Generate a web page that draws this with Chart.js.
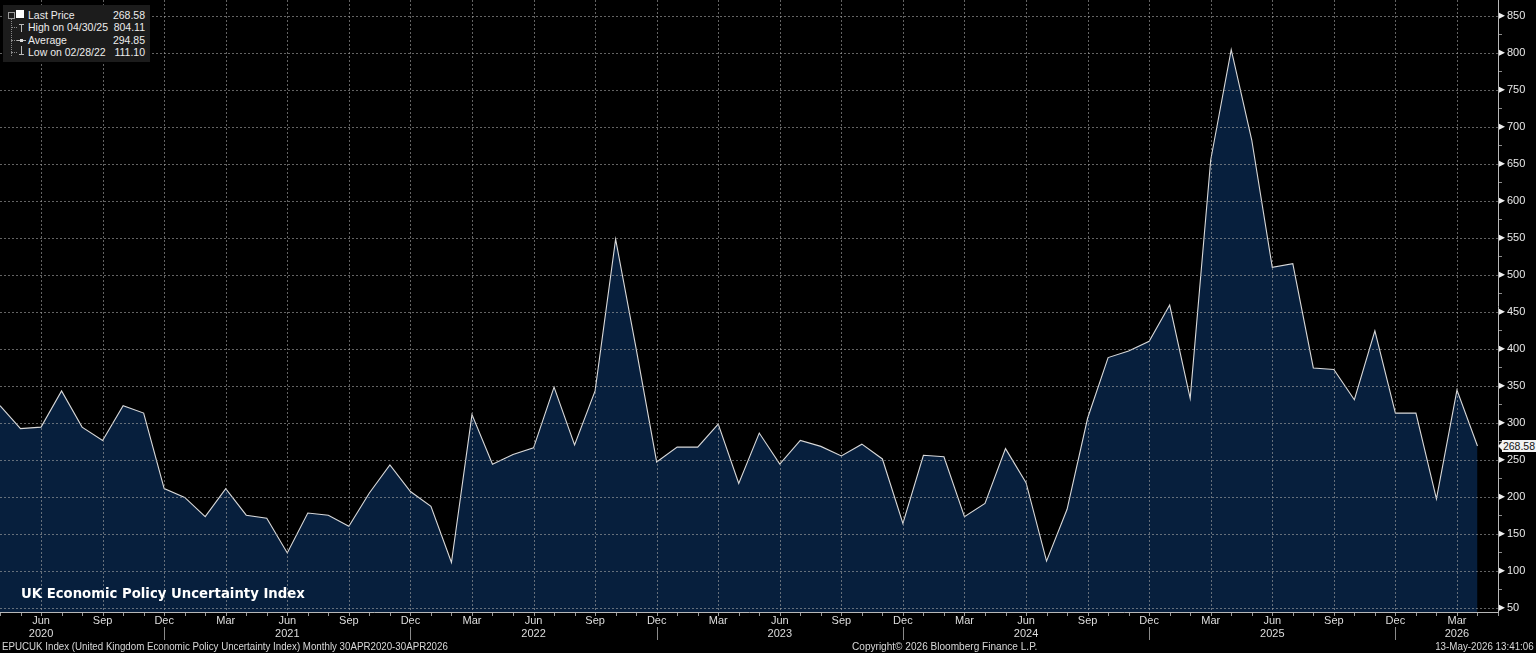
<!DOCTYPE html>
<html>
<head>
<meta charset="utf-8">
<script src="https://cdn.jsdelivr.net/npm/chart.js@4/dist/chart.umd.min.js"></script>
<style>
  html, body { margin:0; padding:0; background:#000; overflow:hidden; }
  #wrap { position:relative; width:1536px; height:653px; background:#000; }
  #c { position:absolute; left:0; top:0; }
  .txt { position:absolute; color:#e6e6e6; white-space:nowrap; }
  #title { left:21px; top:586px; font:bold 13.25px 'DejaVu Sans', Verdana, sans-serif; color:#fff; }
  .foot { top:640px; font:11px 'Liberation Sans', Arial, sans-serif; color:#d8d8d8; }
  #legend { position:absolute; left:3px; top:5px; width:147px; height:57px; background:#1c1c1c; font:10.5px 'Liberation Sans', Arial, sans-serif; color:#ececec; }
  #legend .row { position:absolute; left:0; width:147px; height:12px; line-height:12px; }
  #legend .lab { position:absolute; left:25px; }
  #legend .val { position:absolute; right:5px; }
  #tag { position:absolute; left:1502px; width:34px; height:12px; background:#f2f2f2; color:#111; font:10.5px 'Liberation Sans', Arial, sans-serif; line-height:12px; text-align:center; }
  #tag:before { content:''; position:absolute; left:-4px; top:2px; border-top:4px solid transparent; border-bottom:4px solid transparent; border-right:4px solid #f2f2f2; }
</style>
</head>
<body>
<div id="wrap">
  <canvas id="c" width="1536" height="653"></canvas>
  <div id="legend">
    <div style="position:absolute;left:5px;top:7px;width:5px;height:5px;border:1px solid #999;"></div>
    <div style="position:absolute;left:8px;top:14px;width:1px;height:37px;border-left:1px dotted #888;"></div>
    <div style="position:absolute;left:8px;top:22px;width:6px;height:1px;border-top:1px dotted #888;"></div>
    <div style="position:absolute;left:8px;top:35px;width:6px;height:1px;border-top:1px dotted #888;"></div>
    <div style="position:absolute;left:8px;top:47px;width:6px;height:1px;border-top:1px dotted #888;"></div>
    <div style="position:absolute;left:13px;top:5px;width:8px;height:8px;background:#fff;"></div>
    <div style="position:absolute;left:16px;top:19px;width:5px;height:1px;background:#bbb;"></div>
    <div style="position:absolute;left:18px;top:19px;width:1px;height:8px;background:#bbb;"></div>
    <div style="position:absolute;left:14px;top:35px;width:9px;height:1px;background:#bbb;"></div>
    <div style="position:absolute;left:17px;top:34px;width:3px;height:3px;background:#ddd;"></div>
    <div style="position:absolute;left:18px;top:41px;width:1px;height:8px;background:#bbb;"></div>
    <div style="position:absolute;left:16px;top:49px;width:5px;height:1px;background:#bbb;"></div>
    <div class="row" style="top:4px"><span class="lab">Last Price</span><span class="val" id="lv0"></span></div>
    <div class="row" style="top:16px"><span class="lab" id="ll1"></span><span class="val" id="lv1"></span></div>
    <div class="row" style="top:29px"><span class="lab">Average</span><span class="val" id="lv2"></span></div>
    <div class="row" style="top:41px"><span class="lab" id="ll3"></span><span class="val" id="lv3"></span></div>
  </div>
  <div class="txt" id="title">UK Economic Policy Uncertainty Index</div>
  <div class="txt foot" style="left:2px;transform:scaleX(0.885);transform-origin:0 0;">EPUCUK Index (United Kingdom Economic Policy Uncertainty Index) Monthly 30APR2020-30APR2026</div>
  <div class="txt foot" style="left:852px;transform:scaleX(0.916);transform-origin:0 0;">Copyright© 2026 Bloomberg Finance L.P.</div>
  <div class="txt foot" style="right:2px;transform:scaleX(0.89);transform-origin:100% 0;">13-May-2026 13:41:06</div>
  <div id="tag"></div>
</div>
<script>
// ---- data ----
const categories = [
  '2020-04','2020-05','2020-06','2020-07','2020-08','2020-09','2020-10','2020-11','2020-12',
  '2021-01','2021-02','2021-03','2021-04','2021-05','2021-06','2021-07','2021-08','2021-09','2021-10','2021-11','2021-12',
  '2022-01','2022-02','2022-03','2022-04','2022-05','2022-06','2022-07','2022-08','2022-09','2022-10','2022-11','2022-12',
  '2023-01','2023-02','2023-03','2023-04','2023-05','2023-06','2023-07','2023-08','2023-09','2023-10','2023-11','2023-12',
  '2024-01','2024-02','2024-03','2024-04','2024-05','2024-06','2024-07','2024-08','2024-09','2024-10','2024-11','2024-12',
  '2025-01','2025-02','2025-03','2025-04','2025-05','2025-06','2025-07','2025-08','2025-09','2025-10','2025-11','2025-12',
  '2026-01','2026-02','2026-03','2026-04'
];
const values = [
  323, 292, 294, 343, 294, 276, 323, 313, 211,
  199, 173, 211, 175, 171, 124, 178, 175, 160, 205, 243, 207,
  187, 111.10, 311, 244, 257, 266, 348, 270, 343, 548, 400, 247,
  267, 267, 298, 218, 286, 244, 276, 268, 255, 271, 251, 164,
  256, 254, 173, 191, 265, 219, 113, 183, 306, 388, 397, 410,
  459, 333, 655, 804.11, 682, 510, 515, 374, 372, 331, 424, 313,
  313, 197, 344, 268.58
];
const xTickCats = ['2020-06','2020-09','2020-12','2021-03','2021-06','2021-09','2021-12','2022-03','2022-06','2022-09','2022-12','2023-03',
  '2023-06','2023-09','2023-12','2024-03','2024-06','2024-09','2024-12','2025-03','2025-06','2025-09','2025-12','2026-03'];
const xTickLabels = ['Jun','Sep','Dec','Mar','Jun','Sep','Dec','Mar','Jun','Sep','Dec','Mar',
  'Jun','Sep','Dec','Mar','Jun','Sep','Dec','Mar','Jun','Sep','Dec','Mar'];
const yearLabels = {'2020-06':'2020','2021-06':'2021','2022-06':'2022','2023-06':'2023','2024-06':'2024','2025-06':'2025','2026-03':'2026'};
const yearSeparators = ['2020-12','2021-12','2022-12','2023-12','2024-12','2025-12'];
const yTicks = [50,100,150,200,250,300,350,400,450,500,550,600,650,700,750,800,850];
const legendLabels = ['Last Price','High on 04/30/25','Average','Low on 02/28/22'];
const legendValues = ['268.58','804.11','294.85','111.10'];

document.getElementById('ll1').textContent = legendLabels[1];
document.getElementById('ll3').textContent = legendLabels[3];
legendValues.forEach((v,i)=>{ document.getElementById('lv'+i).textContent = v; });

const xTickIdx = xTickCats.map(c => categories.indexOf(c));
const points = values.map((v,i)=>({x:i, y:v}));

const overlay = {
  id:'overlay',
  afterDatasetsDraw(chart){
    const {ctx, chartArea:a, scales:{x, y}} = chart;
    ctx.save();
    ctx.strokeStyle = 'rgba(165,165,165,0.6)';
    ctx.lineWidth = 1;
    ctx.setLineDash([2,2]);
    xTickIdx.forEach(i=>{
      const px = Math.round(x.getPixelForValue(i))+0.5;
      ctx.beginPath(); ctx.moveTo(px, a.top); ctx.lineTo(px, a.bottom); ctx.stroke();
    });
    yTicks.forEach(v=>{
      const py = Math.round(y.getPixelForValue(v))+0.5;
      ctx.beginPath(); ctx.moveTo(a.left, py); ctx.lineTo(a.right, py); ctx.stroke();
    });
    ctx.setLineDash([]);
    ctx.strokeStyle = '#b8b8b8';
    ctx.beginPath(); ctx.moveTo(a.left, a.bottom+0.5); ctx.lineTo(a.right+1, a.bottom+0.5); ctx.stroke();
    ctx.beginPath(); ctx.moveTo(a.right+0.5, a.top); ctx.lineTo(a.right+0.5, a.bottom+1); ctx.stroke();
    ctx.strokeStyle = '#9a9a9a';
    for (let i = 0; i <= 73; i++) {
      const px = Math.round(x.getPixelForValue(i))+0.5;
      ctx.beginPath(); ctx.moveTo(px, a.bottom+1); ctx.lineTo(px, a.bottom+4); ctx.stroke();
    }
    ctx.strokeStyle = '#8a8a8a';
    yearSeparators.forEach(c=>{
      const px = Math.round(x.getPixelForValue(categories.indexOf(c)))+0.5;
      ctx.beginPath(); ctx.moveTo(px, a.bottom+15); ctx.lineTo(px, a.bottom+28); ctx.stroke();
    });
    for (let v = 75; v < 871; v += 50) {
      const py = Math.round(y.getPixelForValue(v))+0.5;
      ctx.beginPath(); ctx.moveTo(a.right+1, py); ctx.lineTo(a.right+4, py); ctx.stroke();
    }
    ctx.fillStyle = '#eeeeee';
    yTicks.forEach(v=>{
      const py = y.getPixelForValue(v);
      ctx.beginPath(); ctx.moveTo(a.right+1, py-3); ctx.lineTo(a.right+7, py); ctx.lineTo(a.right+1, py+3); ctx.closePath(); ctx.fill();
    });
    ctx.restore();
  }
};

const chart = new Chart(document.getElementById('c'), {
  type:'line',
  data:{ datasets:[{
    data: points,
    borderColor:'#d9d9d9',
    borderWidth:1.1,
    backgroundColor:'#071f3d',
    fill:'start',
    pointRadius:0,
    tension:0
  }]},
  options:{
    responsive:false,
    animation:false,
    layout:{padding:0},
    plugins:{ legend:{display:false}, tooltip:{enabled:false} },
    scales:{
      x:{
        type:'linear', min:0, max:73,
        afterBuildTicks:s=>{ s.ticks = xTickIdx.map(v=>({value:v})); },
        afterFit:s=>{ s.height = 41; s.paddingLeft = 0; s.paddingRight = 0; },
        grid:{display:false, drawTicks:false},
        border:{display:false},
        ticks:{
          autoSkip:false, maxRotation:0, minRotation:0, padding:2,
          color:'#dedede',
          font:{family:"'Liberation Sans', Arial, sans-serif", size:11, lineHeight:1.2},
          callback:(v,i)=>{ const c = xTickCats[i]; return yearLabels[c] ? [xTickLabels[i], yearLabels[c]] : xTickLabels[i]; }
        }
      },
      y:{
        position:'right', min:44.2, max:871.2,
        afterBuildTicks:s=>{ s.ticks = yTicks.map(v=>({value:v})); },
        afterFit:s=>{ s.width = 38; s.paddingTop = 0; s.paddingBottom = 0; },
        grid:{display:false, drawTicks:false},
        border:{display:false},
        ticks:{
          padding:9, color:'#e8e8e8',
          font:{family:"'Liberation Sans', Arial, sans-serif", size:11}
        }
      }
    }
  },
  plugins:[overlay]
});

const tag = document.getElementById('tag');
const lastVal = values[values.length-1];
tag.textContent = lastVal.toFixed(2);
tag.style.top = (chart.scales.y.getPixelForValue(lastVal) - 6) + 'px';
</script>
</body>
</html>
